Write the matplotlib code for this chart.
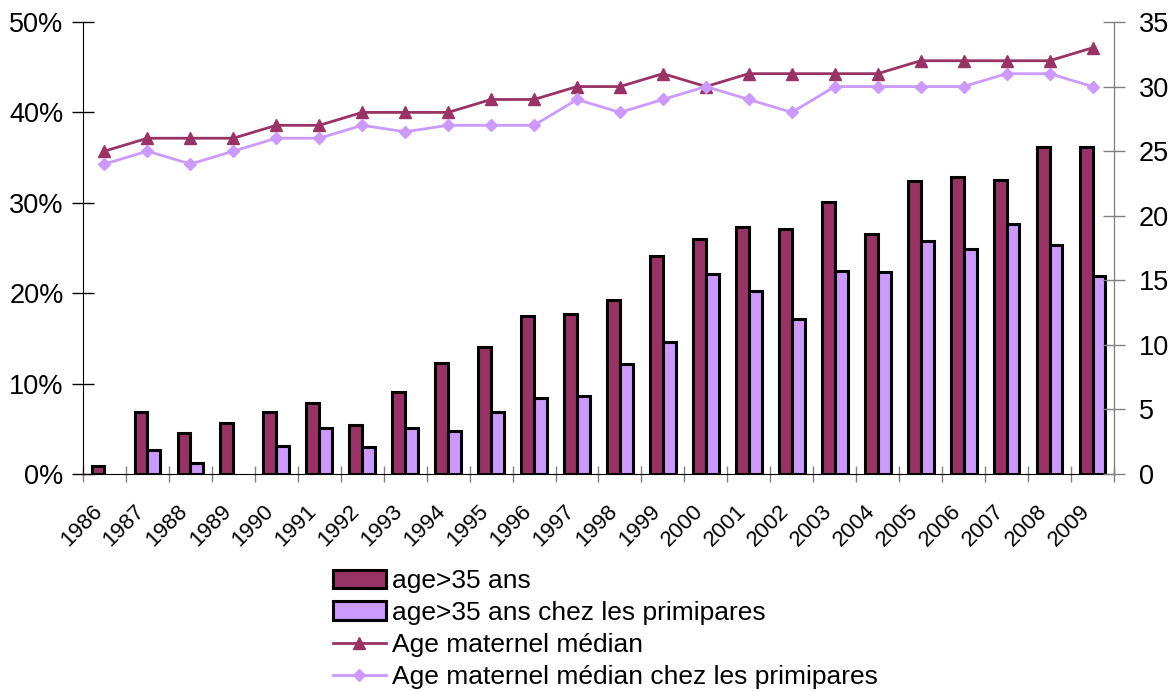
import numpy as np
import matplotlib.pyplot as plt
import matplotlib.transforms as mtransforms
from matplotlib.patches import Patch
from matplotlib.ticker import FixedLocator

plt.rcParams['font.family'] = ['Liberation Sans', 'DejaVu Sans']

# -----------------------------
# Data
# -----------------------------
years = [str(y) for y in range(1986, 2010)]

# share of mothers aged > 35 (%)
pct_over35 = [0.9, 6.9, 4.5, 5.6, 6.9, 7.8, 5.4, 9.1, 12.3, 14.0, 17.5, 17.7,
              19.2, 24.1, 26.0, 27.3, 27.1, 30.1, 26.6, 32.4, 32.9, 32.5, 36.2, 36.2]
# share among primiparous (%)  (0 = no bar shown)
pct_over35_prim = [0.0, 2.7, 1.2, 0.0, 3.1, 5.1, 3.0, 5.1, 4.8, 6.9, 8.4, 8.6,
                   12.2, 14.6, 22.1, 20.2, 17.1, 22.5, 22.3, 25.8, 24.9, 27.6, 25.3, 21.9]

# median maternal age (years)
median_age = [25, 26, 26, 26, 27, 27, 28, 28, 28, 29, 29, 30,
              30, 31, 30, 31, 31, 31, 31, 32, 32, 32, 32, 33]
median_age_prim = [24, 25, 24, 25, 26, 26, 27, 26.5, 27, 27, 27, 29,
                   28, 29, 30, 29, 28, 30, 30, 30, 30, 31, 31, 30]

labels = ["age>35 ans", "age>35 ans chez les primipares",
          "Age maternel médian", "Age maternel médian chez les primipares"]

MAROON = "#993366"
LILAC = "#CC99FF"
GREY = "#808080"

# -----------------------------
# Plot
# -----------------------------
fig = plt.figure(figsize=(11.75, 6.91), dpi=100)
ax = fig.add_axes([83 / 1175, 1 - 474 / 691, (1114 - 83) / 1175, (474 - 22) / 691])
ax2 = ax.twinx()

x = np.arange(len(years))
w = 0.3
b1 = ax.bar(x - w, pct_over35, width=w, align="edge", color=MAROON,
            edgecolor="black", linewidth=2.2)
b2 = ax.bar(x, pct_over35_prim, width=w, align="edge", color=LILAC,
            edgecolor="black", linewidth=2.2)
# empty categories get no bar at all
for p in list(b1.patches) + list(b2.patches):
    if p.get_height() == 0:
        p.set_visible(False)

l1, = ax2.plot(x, median_age, color=MAROON, linewidth=2, marker="^",
               markersize=9, label=labels[2])
l2, = ax2.plot(x, median_age_prim, color=LILAC, linewidth=2, marker="D",
               markersize=6.5, label=labels[3])

# left axis (percent)
ax.set_ylim(0, 50)
ax.set_yticks(range(0, 51, 10))
ax.set_yticklabels([f"{v}%" for v in range(0, 51, 10)], fontsize=19.5)
ax.tick_params(axis="y", direction="inout", length=16, width=1, pad=6, colors="black")

# right axis (years)
ax2.set_ylim(0, 35)
ax2.set_yticks(range(0, 36, 5))
ax2.tick_params(axis="y", direction="inout", length=16, width=1, pad=10,
                labelsize=19.5, color=GREY, labelcolor="black")

# category axis
ax.set_xlim(-0.5, len(years) - 0.5)
ax.xaxis.set_major_locator(FixedLocator(np.arange(-0.5, len(years), 1.0)))
ax.set_xticklabels([])
ax.xaxis.set_minor_locator(FixedLocator(x))
ax.set_xticklabels(years, minor=True, rotation=45, ha="right", va="top",
                   rotation_mode="anchor", fontsize=16)
ax.tick_params(axis="x", which="major", direction="inout", length=12, width=1, color=GREY)
ax.tick_params(axis="x", which="minor", length=0, pad=19)
shift = mtransforms.ScaledTranslation(-13 / 100, 0, fig.dpi_scale_trans)
for lbl in ax.get_xticklabels(minor=True):
    lbl.set_transform(lbl.get_transform() + shift)

for a in (ax, ax2):
    a.spines["top"].set_visible(False)
ax.spines["left"].set_color("black")
ax.spines["bottom"].set_color("black")
ax2.spines["right"].set_color(GREY)
ax2.spines["left"].set_visible(False)
ax2.spines["bottom"].set_visible(False)

h1 = Patch(facecolor=MAROON, edgecolor="black", linewidth=2.2, label=labels[0])
h2 = Patch(facecolor=LILAC, edgecolor="black", linewidth=2.2, label=labels[1])
fig.legend(handles=[h1, h2, l1, l2], loc="upper left",
           bbox_to_anchor=(333 / 1175, 1 - 569 / 691), frameon=False,
           fontsize=19, handlelength=2.0, handleheight=0.7,
           handletextpad=0.25, labelspacing=0.3, borderpad=0, borderaxespad=0)

fig.savefig("out.png", dpi=100)
